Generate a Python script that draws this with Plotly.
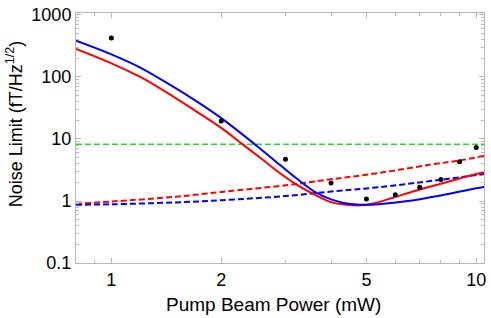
import plotly.graph_objects as go

# ---- data ----
blue_x = [0.8, 1.0, 1.2, 1.5, 1.7, 2.0, 2.5, 2.9, 3.2, 3.65, 4.0, 4.3, 4.7, 5.0, 5.4, 6.5, 8.0, 10.0, 10.5]
blue_y = [385, 232, 142, 66, 41.5, 21.7, 7.8, 3.8, 2.37, 1.35, 1.06, 0.94, 0.88, 0.87, 0.89, 1.0, 1.23, 1.6, 1.69]

red_x = [0.8, 1.0, 1.2, 1.5, 1.7, 2.0, 2.3, 2.6, 2.9, 3.2, 3.65, 4.0, 4.4, 4.8, 5.0, 5.4, 6.0, 7.0, 8.0, 9.0, 10.0, 10.5]
red_y = [283, 166, 100, 45.7, 28.5, 15.1, 8.04, 4.62, 2.8, 1.87, 1.22, 0.96, 0.87, 0.85, 0.87, 0.96, 1.16, 1.53, 1.9, 2.3, 2.72, 2.9]

red_dash_x = [0.8, 1.0, 1.5, 2.0, 3.0, 4.0, 5.4, 7.5, 9.0, 10.5]
red_dash_y = [0.90, 0.98, 1.17, 1.40, 1.79, 2.24, 2.83, 3.87, 4.5, 5.35]

blue_dash_x = [0.8, 1.0, 1.5, 2.0, 3.0, 4.0, 5.4, 8.0, 10.5]
blue_dash_y = [0.87, 0.885, 0.95, 1.03, 1.2, 1.42, 1.67, 2.2, 2.72]

green_x = [0.8, 10.5]
green_level = 8.2

meas_x = [1, 2, 3, 4, 5, 6, 7, 8, 9, 10]
meas_y = [425, 19.5, 4.7, 1.95, 1.08, 1.26, 1.66, 2.23, 4.3, 7.3]

x_tickvals = [1, 2, 5, 10]
x_ticktext = ["1", "2", "5", "10"]
y_tickvals = [0.1, 1, 10, 100, 1000]
y_ticktext = ["0.1", "1", "10", "100", "1000"]

x_minor = [0.8, 0.9, 3, 4, 6, 7, 8, 9]
y_minor = [m * 10 ** e for e in range(-1, 3) for m in range(2, 10)]

BLUE = "rgb(0,0,255)"
RED = "rgb(255,0,0)"
GREEN = "rgb(40,220,40)"
FRAME = "rgb(185,185,185)"
FONT = "Liberation Sans, Arial, sans-serif"

fig = go.Figure()
fig.add_trace(go.Scatter(x=green_x, y=[green_level] * len(green_x), mode="lines",
                         line=dict(color=GREEN, width=1.5, dash="6px,3px")))
fig.add_trace(go.Scatter(x=red_dash_x, y=red_dash_y, mode="lines", line_shape="spline",
                         line=dict(color=RED, width=2, dash="6px,3px", smoothing=1)))
fig.add_trace(go.Scatter(x=blue_dash_x, y=blue_dash_y, mode="lines", line_shape="spline",
                         line=dict(color=BLUE, width=2, dash="6px,3px", smoothing=1)))
fig.add_trace(go.Scatter(x=red_x, y=red_y, mode="lines", line_shape="spline",
                         line=dict(color=RED, width=2, smoothing=1)))
fig.add_trace(go.Scatter(x=blue_x, y=blue_y, mode="lines", line_shape="spline",
                         line=dict(color=BLUE, width=2, smoothing=1)))
fig.add_trace(go.Scatter(x=meas_x, y=meas_y, mode="markers",
                         marker=dict(color="black", size=5)))

fig.update_layout(
    width=491, height=318,
    margin=dict(l=76, r=5, t=11, b=55),
    paper_bgcolor="white", plot_bgcolor="white",
    showlegend=False,
    font=dict(family=FONT, size=18, color="black"),
    xaxis=dict(type="log", range=[-0.0969, 1.0212],
               tickvals=x_tickvals, ticktext=x_ticktext,
               ticks="inside", ticklen=5, tickcolor=FRAME, tickwidth=1,
               minor=dict(tickvals=x_minor, ticks="inside", ticklen=3, tickcolor=FRAME),
               showline=True, linecolor=FRAME, linewidth=1, mirror="ticks",
               showgrid=False, zeroline=False,
               tickfont=dict(size=18)),
    yaxis=dict(type="log", range=[-1, 3.032],
               tickvals=y_tickvals, ticktext=y_ticktext,
               ticks="inside", ticklen=5, tickcolor=FRAME, tickwidth=1,
               minor=dict(tickvals=y_minor, ticks="inside", ticklen=3, tickcolor=FRAME),
               showline=True, linecolor=FRAME, linewidth=1, mirror="ticks",
               showgrid=False, zeroline=False,
               tickfont=dict(size=18)),
    annotations=[
        dict(text="Pump Beam Power (mW)", xref="paper", yref="paper",
             x=0.485, y=-0.167, xanchor="center", yanchor="middle",
             showarrow=False, font=dict(size=19)),
        dict(text="Noise Limit (fT/Hz<sup>1/2</sup>)", xref="paper", yref="paper",
             x=-0.149, y=0.556, xanchor="center", yanchor="middle", textangle=-90,
             showarrow=False, font=dict(size=18)),
    ],
)

fig.write_html("out.html", config={"displayModeBar": False},
               post_script="document.body.style.margin='0px';document.body.style.padding='0px';")
